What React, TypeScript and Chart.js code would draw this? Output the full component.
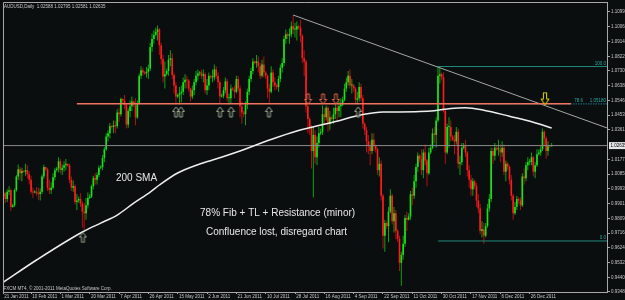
import React, { useEffect, useRef } from 'react';
import { Chart, registerables } from 'chart.js';

Chart.register(...registerables);

// ---------------- data (prices in pips, x 0.0001) ----------------
const firstOpen = 9950;
const closes = [
  9965, 9930, 9975, 9985, 9880, 9890, 9985, 10070, 10115, 10090,
  10105, 10100, 10110, 10085, 10050, 9975, 9970, 9975, 9965, 9960,
  9975, 10070, 10130, 10115, 10000, 9985, 10000, 10065, 10110, 10120,
  10165, 10110, 10125, 10140, 10150, 10140, 10050, 10000, 10010, 9910,
  9920, 9930, 9900, 9850, 9840, 9890, 9935, 9945, 10010, 10060,
  10050, 10080, 10125, 10130, 10185, 10240, 10320, 10340, 10385, 10380,
  10390, 10385, 10470, 10460, 10555, 10545, 10520, 10395, 10480, 10510,
  10540, 10520, 10440, 10530, 10700, 10735, 10720, 10715, 10725, 10745,
  10880, 10930, 10955, 10975, 10990, 10890, 10805, 10695, 10710, 10730,
  10800, 10810, 10705, 10640, 10570, 10580, 10590, 10600, 10660, 10675,
  10670, 10620, 10570, 10610, 10660, 10700, 10715, 10720, 10700, 10710,
  10610, 10640, 10700, 10690, 10690, 10740, 10700, 10660, 10570, 10575,
  10610, 10665, 10560, 10560, 10620, 10615, 10600, 10680, 10620, 10510,
  10470, 10460, 10520, 10600, 10680, 10730, 10790, 10780, 10790, 10760,
  10700, 10770, 10720, 10700, 10620, 10600, 10720, 10660, 10640, 10630,
  10680, 10750, 10780, 10930, 10960, 10950, 10960, 11010, 10990, 10990,
  11010, 11000, 10950, 10810, 10790, 10510, 10430, 10380, 10230, 10330,
  10190, 10280, 10340, 10350, 10460, 10440, 10500, 10400, 10440, 10430,
  10460, 10500, 10480, 10510, 10520, 10550, 10620, 10660, 10700, 10640,
  10640, 10620, 10550, 10560, 10630, 10560, 10400, 10360, 10290, 10260,
  10230, 10300, 10260, 10240, 10110, 10150, 9950, 9700, 9780, 9760,
  9850, 9950, 9790, 9840, 9730, 9680, 9530, 9580, 9650, 9810,
  9800, 9820, 9960, 9950, 10040, 10130, 10200, 10180, 10110, 10220,
  10170, 10090, 10220, 10250, 10340, 10330, 10420, 10700, 10710, 10690,
  10480, 10220, 10380, 10380, 10320, 10300, 10290, 10350, 10150, 10160,
  10250, 10260, 10220, 10110, 10050, 9990, 10040, 10010, 9920, 9870,
  9730, 9740, 9700, 9760, 9870, 9930, 10230, 10200, 10250, 10240,
  10240, 10220, 10250, 10100, 10150, 10130, 10050, 9950, 9840, 9880,
  9930, 9920, 9890, 10070, 10060, 10140, 10160, 10160, 10190, 10100,
  10140, 10210, 10220, 10240, 10350, 10310, 10230, 10260, 10259, 10263.5,
];
const highs = [
  9985, 9975, 9990, 10010, 9995, 9900, 9995, 10080, 10145, 10130,
  10125, 10110, 10150, 10140, 10105, 10075, 10000, 9985, 10005, 10000,
  9995, 10085, 10145, 10130, 10125, 10050, 10035, 10090, 10125, 10130,
  10190, 10180, 10145, 10165, 10180, 10150, 10150, 10070, 10045, 10020,
  9960, 9945, 9965, 9915, 9905, 9935, 9970, 9960, 10020, 10075,
  10090, 10095, 10140, 10140, 10205, 10255, 10340, 10360, 10405, 10390,
  10420, 10420, 10490, 10500, 10565, 10560, 10580, 10530, 10495, 10545,
  10570, 10545, 10560, 10545, 10715, 10760, 10750, 10730, 10755, 10770,
  10905, 10965, 10985, 11000, 11015, 11000, 10905, 10830, 10790, 10745,
  10830, 10860, 10840, 10720, 10660, 10590, 10630, 10640, 10690, 10710,
  10700, 10680, 10625, 10640, 10680, 10730, 10740, 10730, 10740, 10740,
  10720, 10680, 10720, 10705, 10740, 10770, 10760, 10720, 10670, 10590,
  10630, 10690, 10680, 10590, 10645, 10630, 10640, 10700, 10700, 10640,
  10540, 10480, 10540, 10620, 10700, 10750, 10810, 10795, 10830, 10820,
  10780, 10800, 10820, 10730, 10710, 10650, 10760, 10740, 10690, 10650,
  10700, 10770, 10810, 10950, 10990, 10970, 10995, 11040, 11080, 11030,
  11040, 11020, 11050, 10960, 10860, 10800, 10520, 10440, 10390, 10380,
  10360, 10320, 10380, 10370, 10515, 10500, 10515, 10510, 10480, 10450,
  10500, 10530, 10520, 10540, 10560, 10570, 10650, 10690, 10730, 10740,
  10680, 10650, 10630, 10600, 10660, 10650, 10580, 10410, 10380, 10330,
  10290, 10340, 10340, 10270, 10250, 10190, 10170, 9960, 9800, 9790,
  9880, 9990, 9960, 9880, 9860, 9740, 9700, 9600, 9700, 9830,
  9850, 9840, 9980, 10000, 10080, 10150, 10220, 10210, 10240, 10240,
  10270, 10180, 10250, 10270, 10370, 10380, 10440, 10760, 10750, 10720,
  10720, 10490, 10400, 10440, 10420, 10330, 10330, 10380, 10370, 10200,
  10280, 10280, 10300, 10230, 10140, 10080, 10060, 10050, 10030, 9960,
  9900, 9790, 9780, 9780, 9900, 9960, 10250, 10250, 10280, 10260,
  10300, 10270, 10290, 10270, 10170, 10160, 10140, 10080, 9960, 9910,
  9950, 9940, 9940, 10090, 10120, 10160, 10190, 10180, 10220, 10200,
  10160, 10240, 10240, 10260, 10370, 10360, 10320, 10290, 10265, 10279.5,
];
const lows = [
  9925, 9905, 9910, 9955, 9855, 9875, 9880, 9975, 10050, 10045,
  10040, 10095, 10075, 10060, 10020, 9960, 9935, 9965, 9950, 9925,
  9920, 9960, 10055, 10105, 9980, 9960, 9960, 9990, 10045, 10100,
  10095, 10090, 10080, 10100, 10110, 10130, 10030, 9980, 9975, 9895,
  9860, 9905, 9880, 9750, 9730, 9800, 9870, 9930, 9935, 9990,
  10020, 10020, 10065, 10115, 10110, 10160, 10230, 10290, 10310, 10370,
  10340, 10340, 10370, 10410, 10445, 10530, 10490, 10370, 10375, 10440,
  10480, 10505, 10390, 10430, 10520, 10680, 10700, 10705, 10690, 10680,
  10730, 10850, 10900, 10950, 10920, 10830, 10770, 10660, 10620, 10700,
  10700, 10760, 10680, 10590, 10520, 10560, 10520, 10535, 10580, 10620,
  10620, 10600, 10540, 10555, 10580, 10640, 10670, 10700, 10680, 10660,
  10590, 10580, 10610, 10680, 10660, 10670, 10680, 10620, 10525, 10565,
  10560, 10590, 10540, 10520, 10525, 10605, 10560, 10590, 10600, 10440,
  10400, 10440, 10390, 10490, 10580, 10660, 10710, 10770, 10750, 10720,
  10680, 10690, 10690, 10680, 10560, 10525, 10590, 10630, 10610, 10615,
  10600, 10660, 10720, 10760, 10900, 10930, 10900, 10940, 10960, 10940,
  10920, 10990, 10910, 10780, 10700, 10470, 10340, 10330, 10120, 9940,
  10150, 10140, 10250, 10330, 10330, 10390, 10420, 10350, 10360, 10420,
  10400, 10430, 10420, 10440, 10440, 10510, 10540, 10600, 10640, 10620,
  10590, 10600, 10530, 10520, 10540, 10540, 10370, 10330, 10220, 10210,
  10140, 10210, 10230, 10220, 10080, 10070, 9920, 9620, 9600, 9740,
  9660, 9840, 9770, 9720, 9680, 9660, 9480, 9387, 9550, 9630,
  9730, 9795, 9800, 9890, 9930, 10000, 10100, 10160, 10080, 10060,
  10140, 10010, 10080, 10210, 10240, 10280, 10250, 10410, 10650, 10670,
  10470, 10150, 10210, 10250, 10290, 10290, 10210, 10270, 10120, 10080,
  10140, 10240, 10190, 10070, 10000, 9950, 9950, 9990, 9880, 9840,
  9710, 9690, 9650, 9690, 9750, 9850, 9910, 10150, 10170, 10230,
  10200, 10160, 10190, 10080, 10040, 10110, 10020, 9920, 9800, 9830,
  9860, 9900, 9860, 9880, 10020, 10040, 10110, 10140, 10140, 10070,
  10060, 10130, 10200, 10200, 10230, 10260, 10180, 10200, 10250, 10258.1,
];

const X_MIN = -0.3;
const X_MAX = 329.2;
const Y_MIN = 0.93479;
const Y_MAX = 1.11615;

const dateTickIdx = [X_MIN, 15, 31, 47, 63, 79, 95, 111, 127, 143, 159, 175, 191, 207, 223, 239, 255, 271, 287];
const dateTickLabels = [
  '21 Jan 2011', '10 Feb 2011', '1 Mar 2011', '20 Mar 2011', '7 Apr 2011', '26 Apr 2011',
  '15 May 2011', '2 Jun 2011', '21 Jun 2011', '10 Jul 2011', '28 Jul 2011', '16 Aug 2011',
  '4 Sep 2011', '22 Sep 2011', '11 Oct 2011', '30 Oct 2011', '17 Nov 2011', '6 Dec 2011', '26 Dec 2011',
];
const priceTickLabels = [
  '1.10990', '1.10065', '1.09145', '1.08220', '1.07300', '1.06380', '1.05460', '1.04535', '1.03615',
  '1.01775', '1.00850', '0.99930', '0.99010', '0.98090', '0.97165', '0.96245', '0.95325', '0.94400', '0.93480',
];

const smaIdx = [0, 18, 43, 53, 62, 71, 80, 85, 95, 107, 114, 129, 145, 160, 180, 196, 207, 216, 227, 235, 244, 252, 262, 276, 289, 299];
const smaVal = [0.9410, 0.9548, 0.9723, 0.9779, 0.9829, 0.9904, 0.9973, 1.0017, 1.0092, 1.0148, 1.0173, 1.0230, 1.0298, 1.0355, 1.0411, 1.0458, 1.0474, 1.0474, 1.0476, 1.0482, 1.0496, 1.0500, 1.0485, 1.0447, 1.0410, 1.0374];

const trendIdx = [158, 329.2];
const trendVal = [1.1080, 1.0374];

const resistIdx = [40, 309.5];
const resistLevel = 1.0525;

const fibStartIdx = 237;
const fibLevels = [1.0758, 1.0525, 0.9667];
const fibLevelText = ['100.0', '78.6', '0.0'];
const fibPriceText = ['', '1.05180', ''];

const currentPrice = 1.02635;
const currentPriceText = '1.02635';

const upArrowIdx = [43.3, 94.1, 96.8, 118.1, 124.1, 144.8, 193.4];
const upArrowVal = [0.9689, 1.0474, 1.0474, 1.0474, 1.0474, 1.0474, 1.0474];
const downArrowIdx = [166.1, 174.3, 181.3];
const downArrowVal = [1.0555, 1.0555, 1.0555];
const yellowArrowIdx = [295.4];
const yellowArrowVal = [1.0558];

const noteTexts = ['200 SMA', '78% Fib + TL + Resistance (minor)', 'Confluence lost, disregard chart'];
const noteIdx = [61.3, 107.2, 110.4];
const noteVal = [1.0042, 0.9826, 0.9704];

const titleText = 'AUDUSD,Daily  1.02588 1.02795 1.02581 1.02635';
const copyrightText = 'FXCM MT4, \u00A9 2001-2011 MetaQuotes Software Corp.';

// ---------------- styles ----------------
const FONT = "'Liberation Sans', Arial, sans-serif";
const BG = '#0a0e0f';
const AXIS = '#a8a8a8';
const TXT = '#c8c8c8';
const UP_BODY = '#1be31b';
const UP_WICK = '#10a010';
const DN_BODY = '#ff1c1c';
const DN_WICK = '#b01212';

const P = (v: number) => v / 10000;
const opens = closes.map((_, i) => (i === 0 ? firstOpen : closes[i - 1]));
const isUp = (i: number) => closes[i] >= opens[i];

function makeArrow(dir: 'up' | 'down', w: number, h: number, stroke: string): HTMLCanvasElement {
  const c = document.createElement('canvas');
  c.width = w + 2;
  c.height = h + 2;
  const g = c.getContext('2d')!;
  g.translate(1, 1);
  const hw = w / 2, headH = h * 0.45, sw = w * 0.2;
  const pts: [number, number][] = [
    [hw, 0], [w, headH], [hw + sw, headH], [hw + sw, h], [hw - sw, h], [hw - sw, headH], [0, headH],
  ];
  g.beginPath();
  pts.forEach(([px, py], k) => {
    const yy = dir === 'up' ? py : h - py;
    if (k === 0) g.moveTo(px, yy); else g.lineTo(px, yy);
  });
  g.closePath();
  g.fillStyle = 'rgba(10,14,15,0.6)';
  g.fill();
  g.strokeStyle = stroke;
  g.lineWidth = 1;
  g.stroke();
  return c;
}

const overlayPlugin = {
  id: 'mt4overlay',
  beforeDraw(chart: any) {
    const { ctx, width, height } = chart;
    ctx.save();
    ctx.fillStyle = BG;
    ctx.fillRect(0, 0, width, height);
    ctx.restore();
  },
  afterDraw(chart: any) {
    const { ctx, chartArea: a } = chart;
    const x = chart.scales.x;
    const y = chart.scales.y;
    ctx.save();
    ctx.strokeStyle = AXIS;
    ctx.lineWidth = 1;
    ctx.beginPath();
    ctx.moveTo(a.left + 0.5, a.bottom);
    ctx.lineTo(a.left + 0.5, a.top + 0.5);
    ctx.lineTo(a.right, a.top + 0.5);
    ctx.stroke();

    ctx.font = `4.5px ${FONT}`;
    ctx.fillStyle = '#2aa79b';
    ctx.textBaseline = 'bottom';
    ctx.textAlign = 'right';
    fibLevels.forEach((lv, i) => {
      const py = y.getPixelForValue(lv) - 1;
      if (fibPriceText[i]) {
        ctx.fillText(fibPriceText[i], a.right - 1, py);
        ctx.fillText(fibLevelText[i], a.right - 24, py);
      } else {
        ctx.fillText(fibLevelText[i], a.right - 1, py);
      }
    });

    ctx.font = `10px ${FONT}`;
    ctx.fillStyle = '#e8e8e8';
    ctx.textAlign = 'left';
    ctx.textBaseline = 'alphabetic';
    noteTexts.forEach((t, i) => {
      ctx.fillText(t, x.getPixelForValue(noteIdx[i]), y.getPixelForValue(noteVal[i]));
    });

    ctx.font = `4.5px ${FONT}`;
    ctx.fillStyle = TXT;
    ctx.fillText(titleText, a.left + 1, 7.5);
    ctx.fillText(copyrightText, a.left + 0.5, a.bottom - 2);

    const py = y.getPixelForValue(currentPrice);
    ctx.fillStyle = '#e6e6e6';
    ctx.fillRect(a.right + 2, py - 3.5, chart.width - a.right - 2, 7);
    ctx.fillStyle = '#000000';
    ctx.textBaseline = 'middle';
    ctx.fillText(currentPriceText, a.right + 3.5, py + 0.3);
    ctx.restore();
  },
};

export default function App() {
  const ref = useRef<HTMLCanvasElement | null>(null);

  useEffect(() => {
    document.body.style.margin = '0';
    const canvas = ref.current;
    if (!canvas) return;

    const upImg = makeArrow('up', 7, 10, '#9fae95');
    const dnImg = makeArrow('down', 7, 10, '#ee6b4d');
    const yImg = makeArrow('down', 8, 12, '#e8e400');

    const wickData = closes.map((_, i) => ({ x: i, y: [P(lows[i]), P(highs[i])] }));
    const bodyData = closes.map((c, i) => ({ x: i, y: [P(opens[i]), P(c)] }));
    const pts = (xs: number[], ys: number[]) => xs.map((v, i) => ({ x: v, y: ys[i] }));
    const flat = (x0: number, x1: number, v: number) => [{ x: x0, y: v }, { x: x1, y: v }];

    const lineDs = (data: any[], color: string, width: number, dash: number[], order: number) => ({
      type: 'line' as const,
      data,
      borderColor: color,
      borderWidth: width,
      borderDash: dash,
      pointRadius: 0,
      fill: false,
      tension: 0,
      order,
    });

    const arrowDs = (xs: number[], ys: number[], img: HTMLCanvasElement) => ({
      type: 'line' as const,
      data: pts(xs, ys),
      showLine: false,
      pointStyle: img,
      pointRadius: 5,
      order: 0,
    });

    const chart = new Chart(canvas, {
      type: 'bar',
      data: {
        datasets: [
          {
            type: 'bar',
            data: wickData as any,
            grouped: false,
            barPercentage: 0.55,
            categoryPercentage: 1,
            backgroundColor: (c: any) => (isUp(c.dataIndex) ? UP_WICK : DN_WICK),
            borderWidth: 0,
            order: 6,
          } as any,
          {
            type: 'bar',
            data: bodyData as any,
            grouped: false,
            barPercentage: 0.9,
            categoryPercentage: 1,
            minBarLength: 1,
            backgroundColor: (c: any) => (isUp(c.dataIndex) ? UP_BODY : DN_BODY),
            borderWidth: 0,
            order: 5,
          } as any,
          lineDs(flat(X_MIN, X_MAX, currentPrice), '#8a8a8a', 1, [], 4),
          lineDs(flat(fibStartIdx, X_MAX, fibLevels[0]), '#1f8a7b', 1, [], 3),
          lineDs(flat(fibStartIdx, X_MAX, fibLevels[1]), '#22627a', 1.2, [1.5, 1], 3),
          lineDs(flat(fibStartIdx, X_MAX, fibLevels[2]), '#1f8a7b', 1, [], 3),
          lineDs(pts(trendIdx, trendVal), '#a6a6a6', 1, [], 3),
          lineDs(flat(resistIdx[0], resistIdx[1], resistLevel), '#f3735f', 1.5, [], 2),
          {
            type: 'line',
            data: pts(smaIdx, smaVal),
            borderColor: '#eeeeee',
            borderWidth: 1.5,
            pointRadius: 0,
            fill: false,
            cubicInterpolationMode: 'monotone',
            order: 1,
          } as any,
          arrowDs(upArrowIdx, upArrowVal, upImg),
          arrowDs(downArrowIdx, downArrowVal, dnImg),
          arrowDs(yellowArrowIdx, yellowArrowVal, yImg),
        ] as any,
      },
      options: {
        responsive: false,
        maintainAspectRatio: false,
        devicePixelRatio: 1,
        animation: false,
        events: [],
        layout: { padding: { left: 3, top: 2, right: 0, bottom: 0 }, autoPadding: false },
        plugins: { legend: { display: false }, tooltip: { enabled: false }, title: { display: false } },
        scales: {
          x: {
            type: 'linear',
            min: X_MIN,
            max: X_MAX,
            offset: false,
            afterBuildTicks: (s: any) => {
              s.ticks = dateTickIdx.map((v) => ({ value: v }));
            },
            afterFit: (s: any) => {
              s.height = 8;
              s.paddingLeft = 0;
              s.paddingRight = 0;
            },
            ticks: {
              autoSkip: false,
              maxRotation: 0,
              minRotation: 0,
              align: 'start',
              labelOffset: 1.2,
              padding: 0,
              color: TXT,
              font: { family: FONT, size: 4.5 },
              callback: (_v: any, i: number) => dateTickLabels[i] ?? '',
            },
            grid: { display: true, offset: false, drawOnChartArea: false, drawTicks: true, tickLength: 2, color: AXIS },
            border: { display: true, color: AXIS },
          },
          y: {
            type: 'linear',
            position: 'right',
            min: Y_MIN,
            max: Y_MAX,
            beginAtZero: false,
            afterBuildTicks: (s: any) => {
              s.ticks = priceTickLabels.map((t) => ({ value: parseFloat(t) }));
            },
            afterFit: (s: any) => {
              s.width = 18;
              s.paddingTop = 0;
              s.paddingBottom = 0;
            },
            ticks: {
              padding: 1,
              color: TXT,
              font: { family: FONT, size: 4.5 },
              callback: (_v: any, i: number) => priceTickLabels[i] ?? '',
            },
            grid: { display: true, drawOnChartArea: false, drawTicks: true, tickLength: 3, color: AXIS },
            border: { display: true, color: AXIS },
          },
        },
      } as any,
      plugins: [overlayPlugin],
    });

    return () => chart.destroy();
  }, []);

  return (
    <div style={{ width: 625, height: 300, background: BG }}>
      <canvas ref={ref} width={625} height={300} style={{ display: 'block', width: 625, height: 300 }} />
    </div>
  );
}
